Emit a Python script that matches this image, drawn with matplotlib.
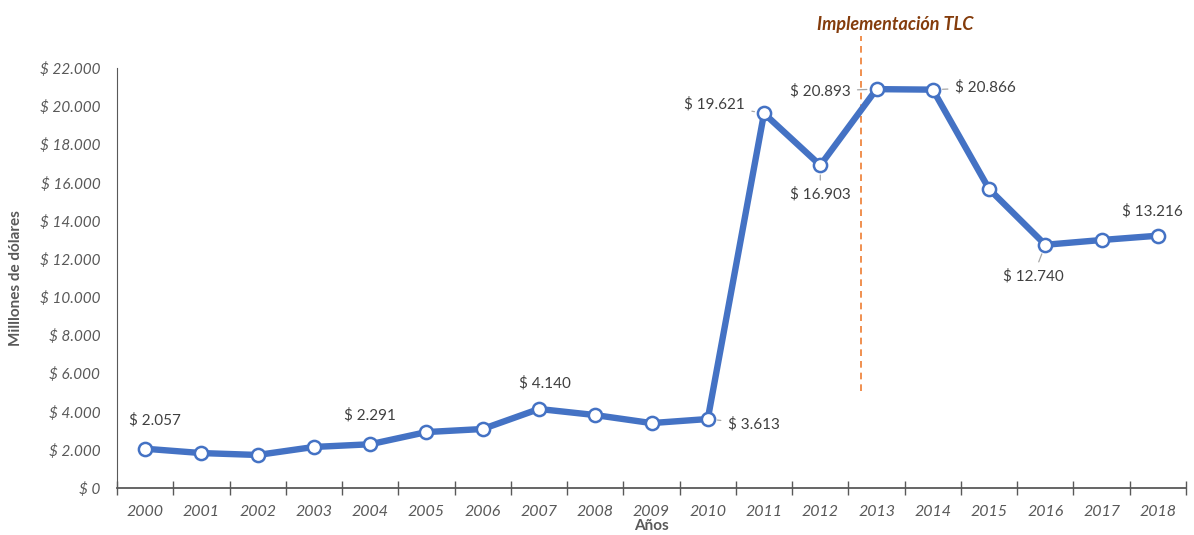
import matplotlib
matplotlib.use('Agg')
import matplotlib.pyplot as plt
from matplotlib.ticker import FuncFormatter, FixedLocator

years = [str(y) for y in range(2000, 2019)]
values = [2057, 1830, 1730, 2150, 2291, 2930, 3090, 4140, 3820, 3400, 3613,
          19621, 16903, 20893, 20866, 15660, 12740, 12990, 13216]

# which points get a value label, where it sits (offset px, alignment), leader line or not
label_pos = {
    0: (10, 28, 'center', False),
    4: (0, 29, 'center', False),
    7: (6, 26, 'center', False),
    10: (20, -5, 'left', True),
    11: (-19, 9, 'right', True),
    12: (0, -29, 'center', True),
    13: (-26, -2, 'right', True),
    14: (22, 2, 'left', True),
    16: (-12, -31, 'center', True),
    18: (-5, 24, 'center', False),
}
tlc_x = 12.72
tlc_label = 'Implementación TLC'

BLUE, GREY, BROWN, ORANGE = '#4472C4', '#595959', '#843C0C', '#ED7D31'
plt.rcParams['font.family'] = ['Lato', 'DejaVu Sans']

fig = plt.figure(figsize=(11.94, 5.35), dpi=100)
ax = fig.add_axes([117 / 1194, 1 - 488 / 535, (1186 - 117) / 1194, (488 - 68) / 535])

x = list(range(len(years)))
ax.plot(x, values, color=BLUE, lw=4.6, marker='o', ms=9.5, mfc='white',
        mec=BLUE, mew=1.8, zorder=3, solid_capstyle='round')

def fmt(v):
    return '$ ' + f'{v:,.0f}'.replace(',', '.')

for i, (dx, dy, ha, lead) in label_pos.items():
    props = dict(arrowstyle='-', color='#A6A6A6', lw=0.9, shrinkA=3, shrinkB=7) if lead else None
    ax.annotate(fmt(values[i]), (x[i], values[i]), xytext=(dx, dy),
                textcoords='offset pixels', ha=ha, va='center', fontsize=11,
                color='#404040', zorder=4, arrowprops=props)

ax.set_xlim(-0.5, len(years) - 0.5)
ax.set_ylim(0, 22000)
ax.set_yticks(range(0, 22001, 2000))
ax.yaxis.set_major_formatter(FuncFormatter(lambda v, p: fmt(v)))
ax.tick_params(axis='y', length=0, labelsize=11, labelcolor=GREY, pad=12)
for t in ax.get_yticklabels():
    t.set_fontstyle('italic')

ax.set_xticks(x)
ax.set_xticklabels(years, fontsize=11.5, color=GREY, style='italic')
ax.tick_params(axis='x', which='major', length=0, pad=12)
ax.xaxis.set_minor_locator(FixedLocator([i - 0.5 for i in range(len(years) + 1)]))
ax.tick_params(axis='x', which='minor', length=10, direction='inout', color=GREY, width=1)

for s in ('top', 'right'):
    ax.spines[s].set_visible(False)
ax.spines['left'].set_color(GREY)
ax.spines['bottom'].set_color(GREY)
ax.spines['bottom'].set_linewidth(1.3)

ax.set_ylabel('Milllones de dólares', fontsize=11, fontweight='bold', color=GREY)
ax.yaxis.set_label_coords(-0.088, 0.5)
ax.set_xlabel('Años', fontsize=11, fontweight='bold', color=GREY)
ax.xaxis.set_label_coords(0.5, -0.074)

# TLC marker
ax.plot([tlc_x, tlc_x], [5100, 23700], color=ORANGE, lw=1.2, ls=(0, (4, 3)),
        clip_on=False, zorder=2)
ax.text(tlc_x + 0.62, 24300, tlc_label, ha='center', va='center', fontsize=13,
        fontweight='bold', style='italic', color=BROWN, clip_on=False)

fig.savefig('out.png', dpi=100, facecolor='white')
